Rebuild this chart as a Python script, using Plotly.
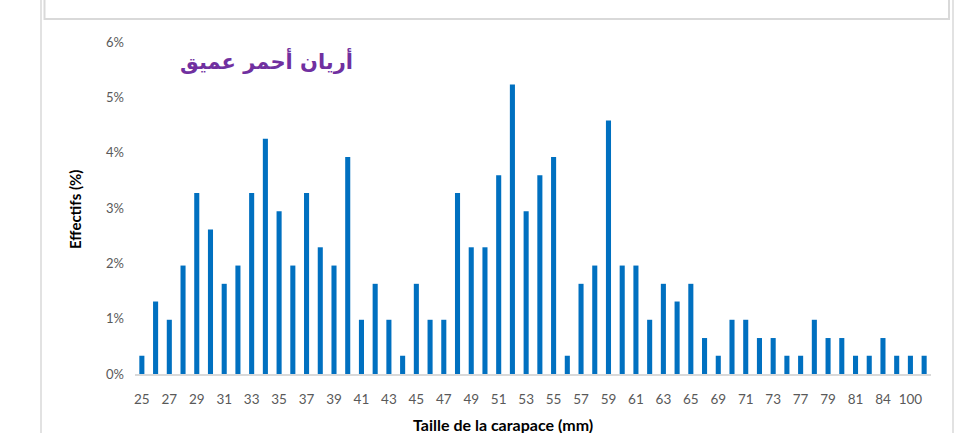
import plotly.graph_objects as go

# Carapace size classes (mm) and share of individuals (%)
sizes = [str(s) for s in range(25, 66)] + [
    "67", "69", "70", "71", "72", "73", "75", "77", "78", "79",
    "80", "81", "82", "84", "85", "100", "102",
]
effectifs_pct = [
    0.33, 1.31, 0.98, 1.96, 3.27, 2.61, 1.63, 1.96, 3.27, 4.25,   # 25-34
    2.94, 1.96, 3.27, 2.29, 1.96, 3.92, 0.98, 1.63, 0.98, 0.33,   # 35-44
    1.63, 0.98, 0.98, 3.27, 2.29, 2.29, 3.59, 5.23, 2.94, 3.59,   # 45-54
    3.92, 0.33, 1.63, 1.96, 4.58, 1.96, 1.96, 0.98, 1.63, 1.31,   # 55-64
    1.63, 0.65, 0.33, 0.98, 0.98, 0.65, 0.65, 0.33, 0.33, 0.98,   # 65-78
    0.65, 0.65, 0.33, 0.33, 0.65, 0.33, 0.33, 0.33,               # 79-102
]
# Only every other class is labelled on the axis
tick_sizes = sizes[::2]
y_ticks = [0, 1, 2, 3, 4, 5, 6]
y_ticktext = [f"{v}%" for v in y_ticks]

title_text = "أريان أحمر عميق"

fig = go.Figure(
    go.Bar(
        x=sizes,
        y=effectifs_pct,
        marker=dict(color="#0070c0", line=dict(width=0)),
    )
)

L, R, T, B = 135, 30, 42, 59
W, H = 961, 433
pw, ph = W - L - R, H - T - B


def px_x(x):
    return (x - L) / pw


def px_y(y):
    return (H - B - y) / ph


grey = "#d9d9d9"
label_font = "Lato, Carlito, Liberation Sans, sans-serif"
shapes = [
    # chart frame: left and right edges
    dict(type="line", xref="paper", yref="paper",
         x0=px_x(41), x1=px_x(41), y0=px_y(H + 5), y1=px_y(-5),
         line=dict(color=grey, width=1.5)),
    dict(type="line", xref="paper", yref="paper",
         x0=px_x(953), x1=px_x(953), y0=px_y(H + 5), y1=px_y(-5),
         line=dict(color=grey, width=1.5)),
    # bottom of the panel above
    dict(type="rect", xref="paper", yref="paper",
         x0=px_x(44.5), x1=px_x(949), y0=px_y(19), y1=px_y(-10),
         line=dict(color=grey, width=2), fillcolor="rgba(0,0,0,0)"),
]

fig.update_layout(
    width=W,
    height=H,
    margin=dict(l=L, r=R, t=T, b=B, autoexpand=False),
    paper_bgcolor="white",
    plot_bgcolor="white",
    bargap=0.63,
    showlegend=False,
    font=dict(family=label_font, color="#595959", size=13),
    shapes=shapes,
    annotations=[
        dict(text="<b>" + title_text + "</b>", xref="paper", yref="paper",
             x=px_x(266), y=px_y(60), xanchor="center", yanchor="middle",
             showarrow=False,
             font=dict(family="DejaVu Sans", size=21, color="#7030a0")),
        dict(text="<b>Taille de la carapace (mm)</b>", xref="paper", yref="paper",
             x=px_x(503), y=px_y(424), xanchor="center", yanchor="middle",
             showarrow=False,
             font=dict(family=label_font, size=16, color="#000000")),
        dict(text="<b>Effectifs (%)</b>", xref="paper", yref="paper",
             x=px_x(75), y=px_y(210), xanchor="center", yanchor="middle",
             textangle=-90, showarrow=False,
             font=dict(family=label_font, size=15, color="#000000")),
    ],
)

fig.update_xaxes(
    type="category",
    categoryorder="array",
    categoryarray=sizes,
    tickmode="array",
    tickvals=tick_sizes,
    ticktext=tick_sizes,
    showline=True,
    linecolor=grey,
    linewidth=1.5,
    ticks="",
    showgrid=False,
    automargin=False,
    ticklabelstandoff=12,
    tickfont=dict(size=13.5, color="#595959"),
)

fig.update_yaxes(
    range=[0, 6],
    tickmode="array",
    tickvals=y_ticks,
    ticktext=y_ticktext,
    showgrid=False,
    zeroline=False,
    showline=False,
    ticks="",
    automargin=False,
    ticklabelstandoff=10,
    tickfont=dict(size=13, color="#595959"),
)

fig.write_html("out.html")
